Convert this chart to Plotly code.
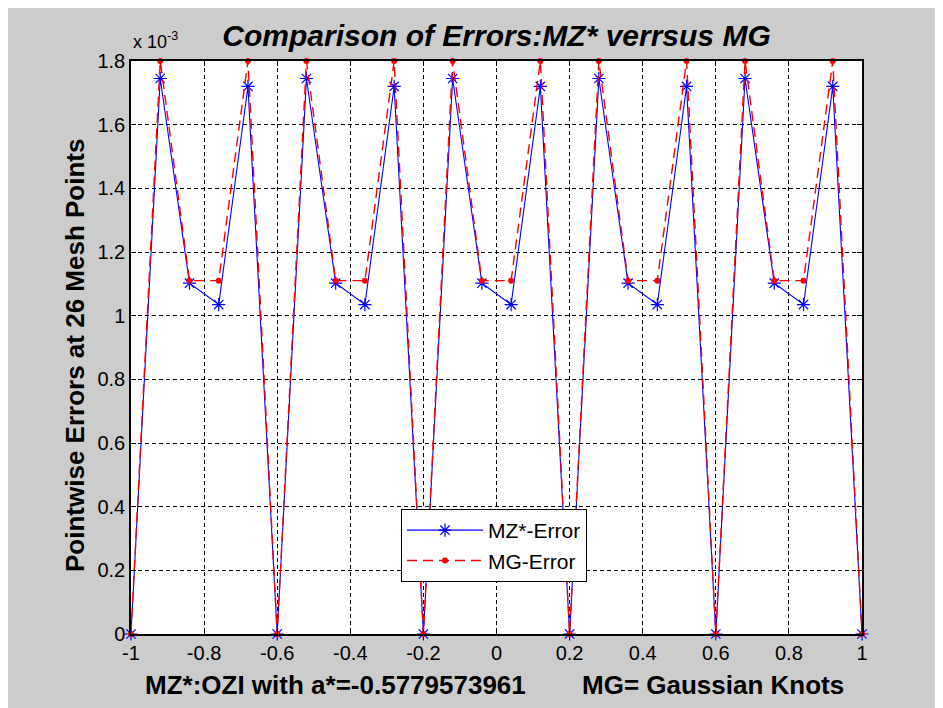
import plotly.graph_objects as go

# Mesh points (26 equally spaced points on [-1, 1])
x_mesh = [-1.00, -0.92, -0.84, -0.76, -0.68,
          -0.60, -0.52, -0.44, -0.36, -0.28,
          -0.20, -0.12, -0.04, 0.04, 0.12,
          0.20, 0.28, 0.36, 0.44, 0.52,
          0.60, 0.68, 0.76, 0.84, 0.92,
          1.00]

# Pointwise errors (units of 1e-3)
mz_error = [0.0, 1.745, 1.102, 1.035, 1.720,
            0.0, 1.745, 1.102, 1.035, 1.720,
            0.0, 1.745, 1.102, 1.035, 1.720,
            0.0, 1.745, 1.102, 1.035, 1.720,
            0.0, 1.745, 1.102, 1.035, 1.720,
            0.0]
mg_error = [0.0, 1.800, 1.110, 1.110, 1.800,
            0.0, 1.800, 1.110, 1.110, 1.800,
            0.0, 1.800, 1.110, 1.110, 1.800,
            0.0, 1.800, 1.110, 1.110, 1.800,
            0.0, 1.800, 1.110, 1.110, 1.800,
            0.0]

x_tickvals = [-1, -0.8, -0.6, -0.4, -0.2, 0, 0.2, 0.4, 0.6, 0.8, 1]
x_ticktext = ["-1", "-0.8", "-0.6", "-0.4", "-0.2", "0", "0.2", "0.4", "0.6", "0.8", "1"]
y_tickvals = [0, 0.2, 0.4, 0.6, 0.8, 1.0, 1.2, 1.4, 1.6, 1.8]
y_ticktext = ["0", "0.2", "0.4", "0.6", "0.8", "1", "1.2", "1.4", "1.6", "1.8"]

FONT = "Liberation Sans, Arial, Helvetica, sans-serif"

fig = go.Figure()
fig.add_trace(go.Scatter(
    x=x_mesh, y=mz_error, name="MZ*-Error", mode="lines+markers",
    line=dict(color="#0000ff", width=1.1),
    marker=dict(symbol="asterisk-open", size=11, color="#0000ff",
                line=dict(color="#0000ff", width=1.2)),
    cliponaxis=False,
))
fig.add_trace(go.Scatter(
    x=x_mesh, y=mg_error, name="MG-Error", mode="lines+markers",
    line=dict(color="#ff0000", width=1.4, dash="10px,6px"),
    marker=dict(symbol="circle", size=6, color="#ff0000"),
    cliponaxis=False,
))

# page body has an 8px margin, so the figure is a bit smaller than the window
W, H = 935, 700
L, R, T, B = 123, 81, 53, 74
PW, PH = W - L - R, H - T - B

axis_common = dict(
    showline=True, linecolor="black", linewidth=1.5, mirror="ticks",
    ticks="inside", ticklen=5, tickcolor="black", tickwidth=1,
    showgrid=True, gridcolor="black", gridwidth=1, griddash="4px,3px",
    zeroline=False,
    tickfont=dict(family=FONT, size=20, color="black"),
)

fig.update_layout(
    width=W, height=H,
    margin=dict(l=L, r=R, t=T, b=B, pad=0),
    paper_bgcolor="#cccccc",
    plot_bgcolor="white",
    title=dict(text="Comparison of Errors:MZ* verrsus MG",
               x=0.5, xref="paper", xanchor="center",
               y=1 - 27 / H, yref="container", yanchor="middle",
               font=dict(family=FONT, size=30, color="black",
                         weight="bold", style="italic")),
    xaxis=dict(range=[-1, 1], tickvals=x_tickvals, ticktext=x_ticktext, **axis_common),
    yaxis=dict(range=[0, 1.8], tickvals=y_tickvals, ticktext=y_ticktext, **axis_common),
    showlegend=True,
    legend=dict(x=(393 - L) / PW, y=(626 - 501) / PH,
                xanchor="left", yanchor="top",
                bgcolor="white", bordercolor="black", borderwidth=1,
                font=dict(family=FONT, size=21, color="black"),
                itemwidth=76, tracegroupgap=0),
    annotations=[
        dict(text="x 10<sup>-3</sup>", xref="paper", yref="paper",
             x=0, y=1 + 7 / PH, xanchor="left", yanchor="bottom",
             showarrow=False, font=dict(family=FONT, size=18, color="black")),
        dict(text="<b>Pointwise Errors at 26 Mesh Points</b>", xref="paper", yref="paper",
             x=(67 - L) / PW, y=(626 - 348) / PH,
             xanchor="center", yanchor="middle", textangle=-90,
             showarrow=False, font=dict(family=FONT, size=26, color="black")),
        dict(text="<b>MZ*:OZI with a*=-0.5779573961</b>", xref="paper", yref="paper",
             x=(135 - L) / PW, y=(626 - 677) / PH,
             xanchor="left", yanchor="middle",
             showarrow=False, font=dict(family=FONT, size=26, color="black")),
        dict(text="<b>MG= Gaussian Knots</b>", xref="paper", yref="paper",
             x=(838 - L) / PW, y=(626 - 677) / PH,
             xanchor="right", yanchor="middle",
             showarrow=False, font=dict(family=FONT, size=26, color="black")),
    ],
)

fig.write_html("out.html")
